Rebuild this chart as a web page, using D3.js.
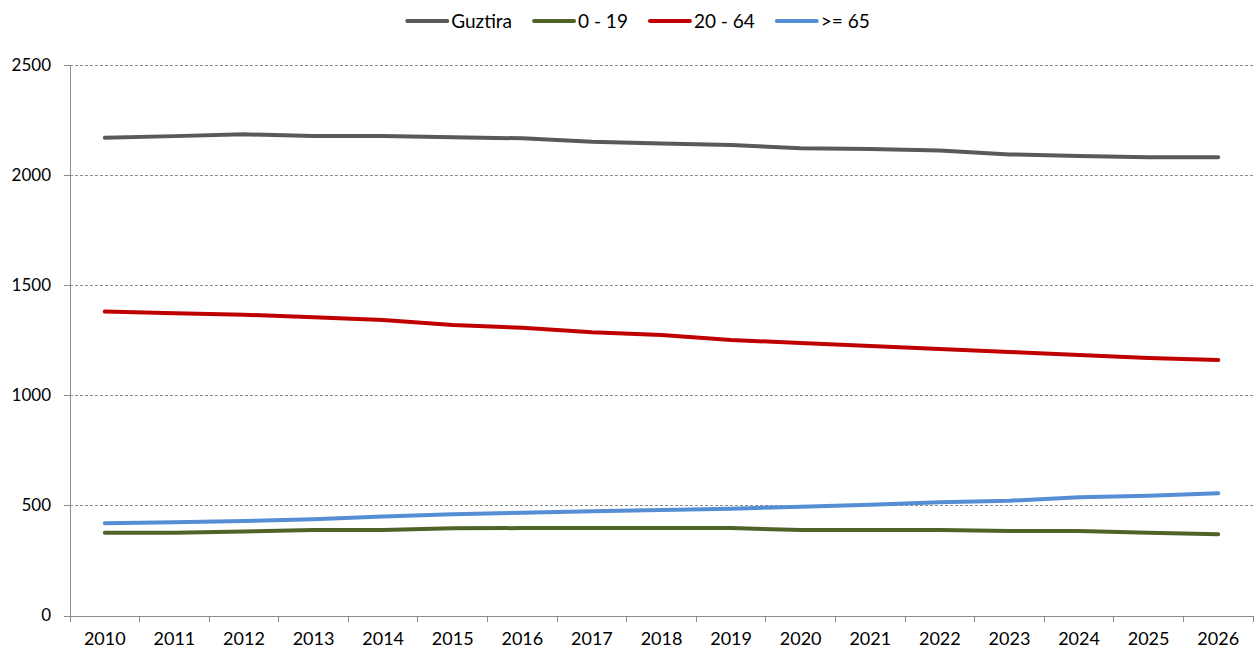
<!DOCTYPE html>
<html><head><meta charset="utf-8">
<script src="https://cdn.jsdelivr.net/npm/d3@7"></script>
<style>
html,body{margin:0;padding:0;background:#fff;}
svg{display:block;font-family:Lato,"Open Sans",sans-serif;}
</style></head>
<body>
<svg id="c" width="1254" height="653"></svg>
<script>
const years = ["2010","2011","2012","2013","2014","2015","2016","2017","2018","2019","2020","2021","2022","2023","2024","2025","2026"];
const seriesNames = ["Guztira","0 - 19","20 - 64",">= 65"];
const guztira = [2170,2177,2185,2178,2178,2172,2167,2152,2144,2137,2122,2118,2112,2094,2087,2081,2081];
const age0_19 = [376,376,382,388,388,396,397,397,397,397,388,388,388,384,384,376,369];
const age20_64 = [1380,1373,1366,1354,1342,1319,1307,1286,1274,1251,1238,1224,1210,1197,1183,1169,1160];
const age65 = [419,423,429,437,450,460,467,473,479,485,494,503,514,521,537,544,555];
const yTicks = [0,500,1000,1500,2000,2500];
const colors = ["#595959","#4F6228","#C00000","#558ED5"];

(function(){
const series = [guztira, age0_19, age20_64, age65];
const svg = d3.select("#c");
const mLeft = 70, mRight = 1253, mTop = 65, mBottom = 615.5;

const x = d3.scaleBand().domain(years).range([mLeft, mRight]);
const y = d3.scaleLinear().domain([0, 2500]).range([mBottom, mTop]);

// gridlines
svg.append("g").selectAll("line").data(yTicks.filter(d => d > 0)).join("line")
  .attr("x1", mLeft).attr("x2", mRight)
  .attr("y1", d => y(d)).attr("y2", d => y(d))
  .attr("stroke", "#8c8c8c").attr("stroke-width", 1)
  .attr("stroke-dasharray", "3,2")
  .attr("shape-rendering", "crispEdges");

// y axis
const yAxis = svg.append("g").attr("transform", `translate(${mLeft},0)`)
  .call(d3.axisLeft(y).tickValues(yTicks).tickSize(6).tickPadding(13).tickFormat(d3.format("d")));
yAxis.select(".domain").attr("stroke", "#8c8c8c").attr("shape-rendering", "crispEdges");
yAxis.selectAll(".tick line").attr("stroke", "#8c8c8c").attr("shape-rendering", "crispEdges");
yAxis.selectAll("text").attr("font-size", 17).attr("fill", "#000").attr("font-family", "Lato");

// x axis
const xAxis = svg.append("g").attr("transform", `translate(0,${mBottom})`)
  .call(d3.axisBottom(x).tickSize(0).tickPadding(17));
xAxis.select(".domain").attr("stroke", "#8c8c8c").attr("shape-rendering", "crispEdges");
xAxis.selectAll("text").attr("font-size", 18).attr("fill", "#000").attr("font-family", "Lato");
const bounds = years.map(d => x(d)).concat([x(years[years.length-1]) + x.bandwidth()]);
xAxis.append("g").selectAll("line").data(bounds).join("line")
  .attr("x1", d => d).attr("x2", d => d).attr("y1", 0).attr("y2", 6)
  .attr("stroke", "#8c8c8c").attr("shape-rendering", "crispEdges");

// lines
const line = d3.line()
  .x((d, i) => x(years[i]) + x.bandwidth() / 2)
  .y(d => y(d));
svg.append("g").selectAll("path").data(series).join("path")
  .attr("d", d => line(d))
  .attr("fill", "none")
  .attr("stroke", (d, i) => colors[i])
  .attr("stroke-width", 4)
  .attr("stroke-linecap", "round")
  .attr("stroke-linejoin", "round");

// legend
const lg = svg.append("g");
const items = lg.selectAll("g").data(seriesNames).join("g");
items.append("line").attr("x1", 0).attr("x2", 40).attr("y1", 0).attr("y2", 0)
  .attr("stroke", (d, i) => colors[i]).attr("stroke-width", 4).attr("stroke-linecap", "round");
items.append("text").attr("x", 44).attr("y", 0).attr("dy", "0.35em")
  .attr("font-size", 19).attr("fill", "#000").text(d => d);
let cx = 0;
const offs = [];
items.each(function(d) {
  const w = this.querySelector("text").getComputedTextLength();
  offs.push(cx);
  cx += 44 + w + 22;
});
const total = cx - 22;
const startX = 638.5 - total / 2;
items.attr("transform", (d, i) => `translate(${startX + offs[i]},21)`);
})();
</script>
</body></html>
